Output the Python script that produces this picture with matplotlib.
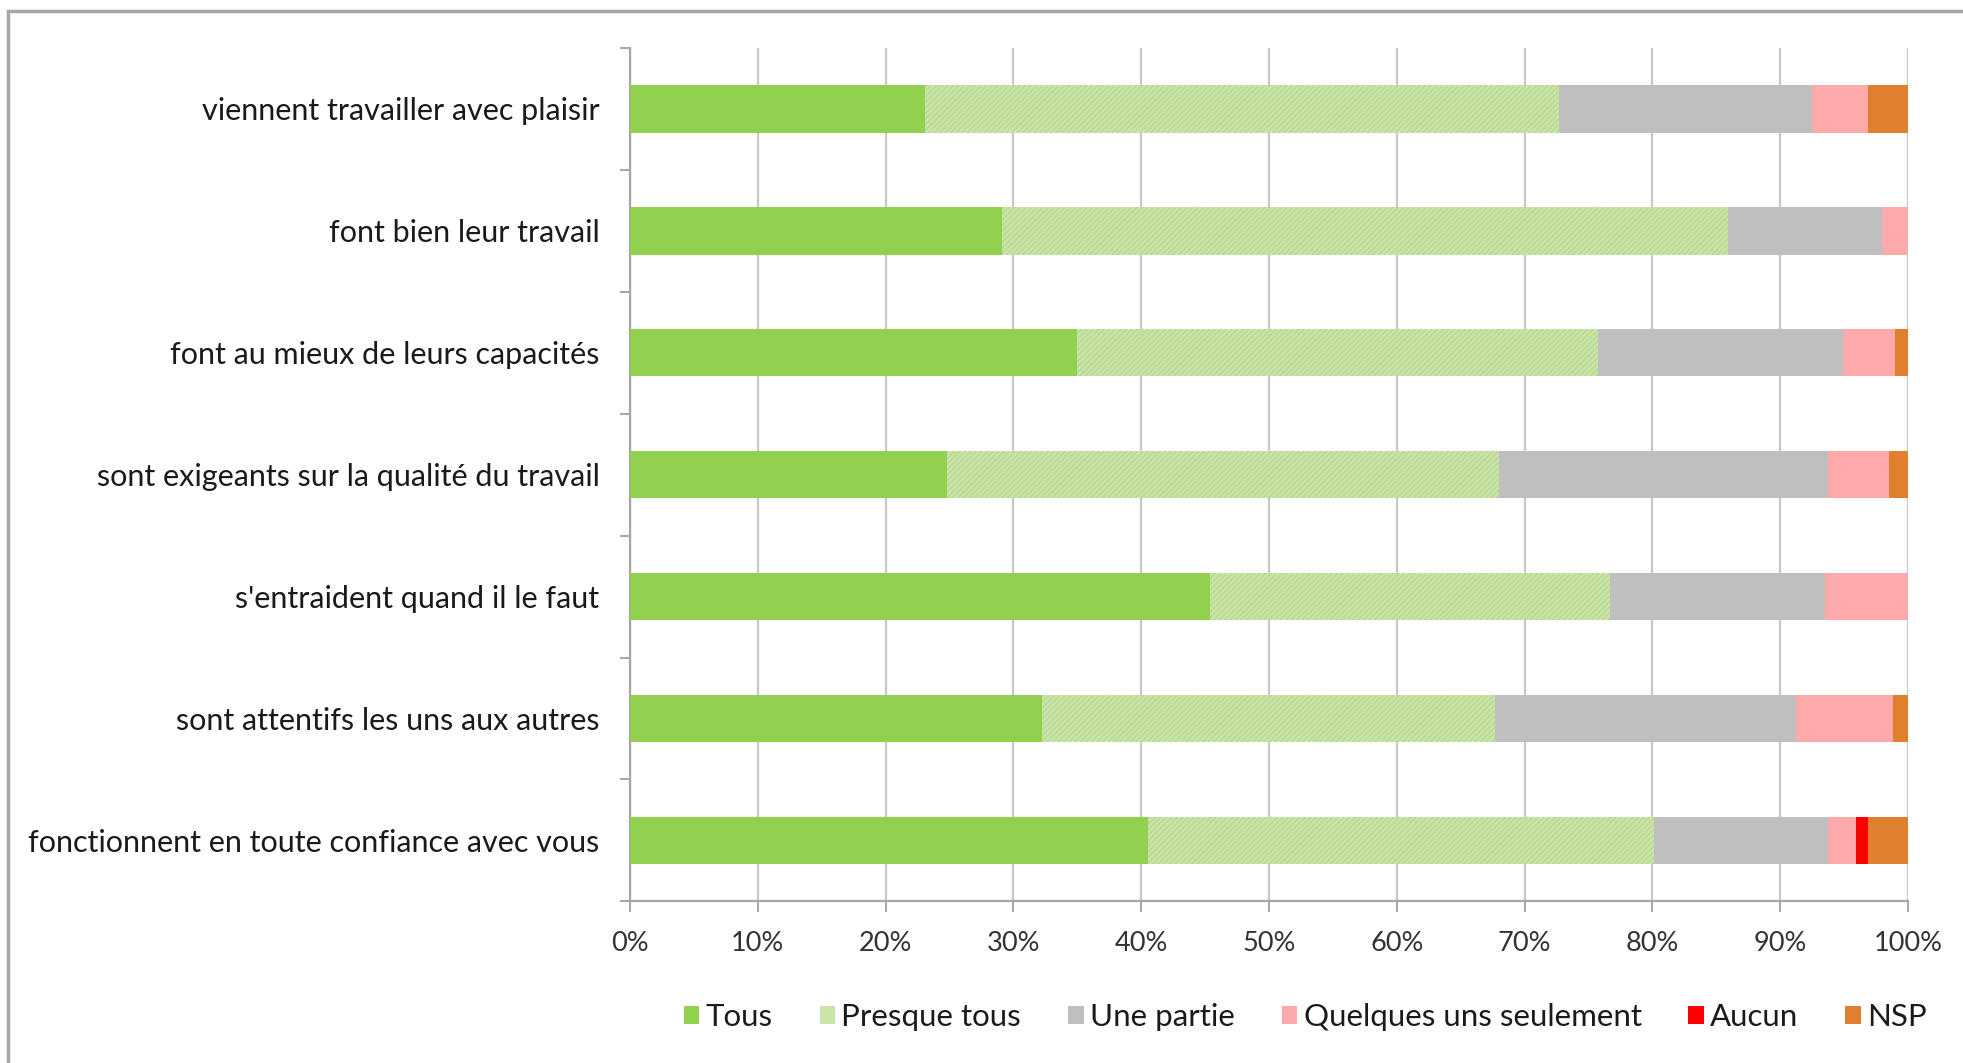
import numpy as np
import matplotlib
matplotlib.use("Agg")
import matplotlib.pyplot as plt
from matplotlib.patches import Rectangle, Patch
from matplotlib.ticker import MultipleLocator, PercentFormatter

plt.rcParams['font.family'] = ['Lato', 'DejaVu Sans']
plt.rcParams['hatch.linewidth'] = 0.8

# items, listed bottom to top
items = [
  "fonctionnent en toute confiance avec vous",
  "sont attentifs les uns aux autres",
  "s'entraident quand il le faut",
  "sont exigeants sur la qualité du travail",
  "font au mieux de leurs capacités",
  "font bien leur travail",
  "viennent travailler avec plaisir",
]

series = ["Tous", "Presque tous", "Une partie", "Quelques uns seulement", "Aucun", "NSP"]

# shares in %, same order as items
tous = [40.5, 32.2, 45.4, 24.8, 35.0, 29.1, 23.1]
presque_tous = [39.6, 35.5, 31.3, 43.2, 40.7, 56.8, 49.6]
une_partie = [13.6, 23.5, 16.8, 25.7, 19.2, 12.1, 19.8]
quelques_uns = [2.2, 7.6, 6.5, 4.8, 4.1, 2.0, 4.4]
aucun = [1.0, 0.0, 0.0, 0.0, 0.0, 0.0, 0.0]
nsp = [3.1, 1.2, 0.0, 1.5, 1.0, 0.0, 3.1]

colors = ["#92D050", "#C9E3A8", "#BFBFBF", "#FFAAAA", "#FF0000", "#E0802F"]
hatches = [None, "//////", None, None, None, None]
hatch_edges = ["#92D050", "#B5D78C", "#BFBFBF", "#FFAAAA", "#FF0000", "#E0802F"]

fig = plt.figure(figsize=(19.63, 10.63), dpi=100)
ax = fig.add_axes([0.321, 0.152, 0.651, 0.803])

# light frame around the whole chart
fig.patches.append(Rectangle((0.004, -0.01), 1.1, 1.0, transform=fig.transFigure,
                             fill=False, edgecolor="#A6A6A6", linewidth=2.5))

y = np.arange(len(items))
left = np.zeros(len(items))
for name, vals, c, h, hc in zip(series, [tous, presque_tous, une_partie, quelques_uns, aucun, nsp],
                                colors, hatches, hatch_edges):
  vals = np.array(vals) / 100.0
  ax.barh(y, vals, left=left, height=0.39, color=c, hatch=h, edgecolor=hc,
          linewidth=0, zorder=3, label=name)
  left += vals

ax.set_xlim(0, 1)
ax.set_ylim(-0.5, len(items) - 0.5)
ax.xaxis.set_major_locator(MultipleLocator(0.1))
ax.xaxis.set_major_formatter(PercentFormatter(1.0, decimals=0))
ax.set_yticks(y)
ax.set_yticklabels(items)
ax.set_yticks(np.arange(-0.5, len(items)), minor=True)

ax.grid(axis='x', color="#C8C8C8", linewidth=1.6, zorder=0)
for s in ['top', 'right']:
  ax.spines[s].set_visible(False)
for s in ['left', 'bottom']:
  ax.spines[s].set_color("#A6A6A6")
  ax.spines[s].set_linewidth(1.6)

ax.tick_params(axis='y', which='major', length=0, pad=22, labelsize=22, labelcolor="#1A1A1A")
ax.tick_params(axis='y', which='minor', length=7, width=1.4, color="#A6A6A6", direction='out')
ax.tick_params(axis='x', length=8, width=1.4, color="#A6A6A6", pad=13, labelsize=19.5,
               labelcolor="#333333")

handles = [Patch(facecolor=c, edgecolor=c, linewidth=0) for c in colors]
fig.legend(handles, series, loc='center', bbox_to_anchor=(0.665, 0.043), ncol=6,
           frameon=False, fontsize=22.5, handlelength=0.5, handleheight=0.5,
           handletextpad=0.2, columnspacing=1.5, labelcolor="#1A1A1A")

fig.savefig("out.png", dpi=100, facecolor="white")
